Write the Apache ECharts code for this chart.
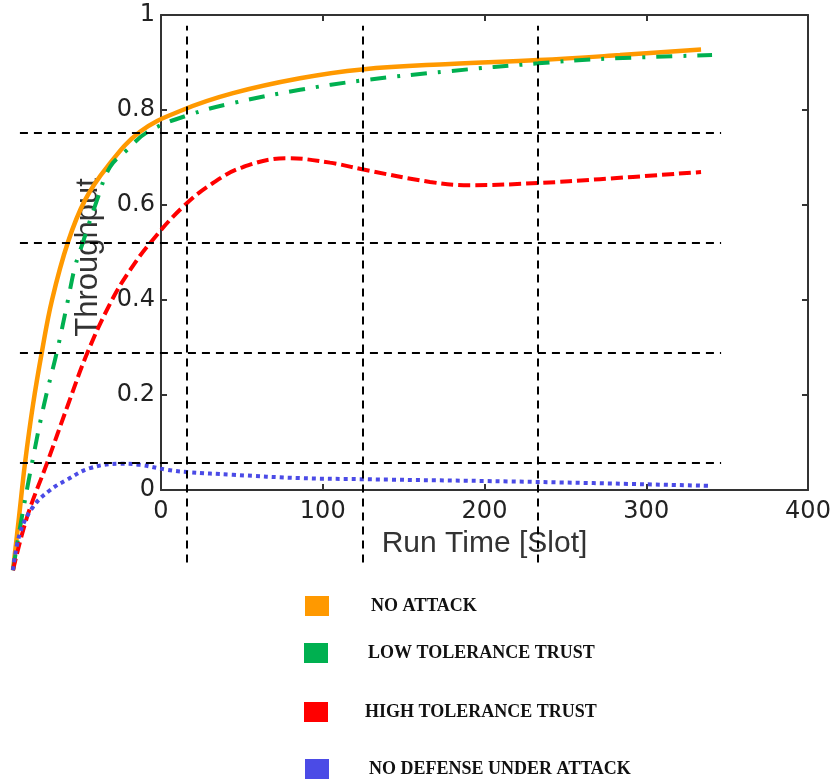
<!DOCTYPE html>
<html>
<head>
<meta charset="utf-8">
<title>Throughput vs Run Time</title>
<script src="https://cdn.jsdelivr.net/npm/echarts@6.0.0/dist/echarts.min.js"></script>
<style>
  html, body { margin: 0; padding: 0; background: #fff; }
  #chart { width: 835px; height: 781px; }
</style>
</head>
<body>
<div id="chart"></div>
<script>
// visible axis frame
const xTicks = [0, 100, 200, 300, 400]
const yTicks = [0, 0.2, 0.4, 0.6, 0.8, 1]

// legend names, top to bottom
const names = ['NO ATTACK', 'LOW TOLERANCE TRUST', 'HIGH TOLERANCE TRUST', 'NO DEFENSE UNDER ATTACK']

// curves (run time slot, throughput)
const noAttackX = [0.85, 4.27, 7.69, 12.25, 17.38, 23.08, 32.19, 41.88, 54.42, 73.22, 97.15, 126.21, 164.39, 199.72, 249.86, 300, 346.7, 392.88]
const noAttackY = [0.006, 0.102, 0.2, 0.306, 0.403, 0.496, 0.601, 0.677, 0.737, 0.801, 0.84, 0.871, 0.898, 0.914, 0.924, 0.931, 0.94, 0.95]

const lowTolX = [0.85, 4.27, 11.68, 18.52, 25.93, 32.19, 36.18, 40.74, 48.72, 56.13, 65.8, 77.78, 100.57, 126.21, 164.39, 199.72, 249.86, 300, 335.33, 399.15]
const lowTolY = [0.006, 0.073, 0.2, 0.306, 0.403, 0.496, 0.556, 0.601, 0.677, 0.737, 0.768, 0.801, 0.831, 0.853, 0.877, 0.894, 0.911, 0.925, 0.933, 0.94]

const highTolX = [0.85, 8.83, 20.23, 32.19, 43.59, 57.26, 67.52, 78.92, 97.72, 114.81, 131.91, 156.98, 181.48, 199.72, 238.46, 261.25, 300, 335.33, 392.88]
const highTolY = [0.006, 0.102, 0.2, 0.306, 0.403, 0.496, 0.55, 0.599, 0.665, 0.708, 0.737, 0.753, 0.745, 0.733, 0.71, 0.704, 0.708, 0.715, 0.728]

const noDefX = [0.85, 4.8, 12.3, 21.9, 31.6, 44.7, 61.8, 73.2, 88.6, 100, 126.2, 164.4, 199.7, 300, 396.9]
const noDefY = [0.006, 0.073, 0.121, 0.151, 0.17, 0.191, 0.199, 0.197, 0.188, 0.184, 0.179, 0.173, 0.171, 0.166, 0.159]

// dashed reference grid of the curve panel
const gridLinesX = [100, 200, 300]
const gridLinesY = [0.2, 0.4, 0.6, 0.8]

const colors = ['#ff9900', '#00b050', '#ff0000', '#4b4be6']

const zip = (xs, ys) => xs.map((x, i) => [x, ys[i]])

const frameLine = { show: true, onZero: false, lineStyle: { color: '#333', width: 2 } }
const frameTick = { show: true, inside: true, length: 6, lineStyle: { color: '#333', width: 2 } }
const tickLabel = { fontFamily: 'DejaVu Sans', fontSize: 24, color: '#222' }

const dashed = { color: '#000', width: 2, type: [8, 6] }
const refLines = [
  ...gridLinesX.map((x) => [{ coord: [x, 0.02] }, { coord: [x, 0.993] }]),
  ...gridLinesY.map((y) => [{ coord: [4.8, y] }, { coord: [404.3, y] }]),
]

function curve(i, xs, ys, lineType, width) {
  return {
    name: names[i],
    type: 'line',
    xAxisIndex: 2,
    yAxisIndex: 2,
    data: zip(xs, ys),
    smooth: 0.4,
    showSymbol: false,
    symbol: 'none',
    itemStyle: { color: colors[i] },
    lineStyle: { color: colors[i], width: width, type: lineType, cap: 'butt' },
    z: 3,
  }
}

const legendPos = [
  { left: 305, top: 596, pad: 37 },
  { left: 304, top: 643, pad: 35 },
  { left: 304, top: 702, pad: 32 },
  { left: 305, top: 759, pad: 35 },
]

const chart = echarts.init(document.getElementById('chart'))
chart.setOption({
  animation: false,
  grid: [
    { left: 161, top: 15, width: 647, height: 475 },
    { left: 11.5, top: 22, width: 719.6, height: 551.5 },
  ],
  xAxis: [
    {
      gridIndex: 0,
      type: 'value',
      position: 'bottom',
      min: xTicks[0],
      max: xTicks[xTicks.length - 1],
      interval: xTicks[1] - xTicks[0],
      name: 'Run Time [Slot]',
      nameLocation: 'middle',
      nameGap: 36,
      nameTextStyle: { fontFamily: 'Liberation Sans', fontSize: 30, color: '#333' },
      axisLine: frameLine,
      axisTick: frameTick,
      axisLabel: { ...tickLabel, margin: 10 },
      splitLine: { show: false },
    },
    {
      gridIndex: 0,
      type: 'value',
      position: 'top',
      min: xTicks[0],
      max: xTicks[xTicks.length - 1],
      interval: xTicks[1] - xTicks[0],
      axisLine: frameLine,
      axisTick: frameTick,
      axisLabel: { show: false },
      splitLine: { show: false },
    },
    { gridIndex: 1, type: 'value', min: 0, max: 410, show: false },
  ],
  yAxis: [
    {
      gridIndex: 0,
      type: 'value',
      position: 'left',
      min: yTicks[0],
      max: yTicks[yTicks.length - 1],
      interval: 0.2,
      name: 'Throughput',
      nameLocation: 'middle',
      nameGap: 57,
      nameTextStyle: { fontFamily: 'Liberation Sans', fontSize: 31, color: '#333', padding: [0, 10, 0, 0] },
      axisLine: frameLine,
      axisTick: frameTick,
      axisLabel: { ...tickLabel, margin: 6 },
      splitLine: { show: false },
    },
    {
      gridIndex: 0,
      type: 'value',
      position: 'right',
      min: yTicks[0],
      max: yTicks[yTicks.length - 1],
      interval: 0.2,
      axisLine: frameLine,
      axisTick: frameTick,
      axisLabel: { show: false },
      splitLine: { show: false },
    },
    { gridIndex: 1, type: 'value', min: 0, max: 1, show: false },
  ],
  legend: names.map((n, i) => ({
    data: [n],
    left: legendPos[i].left,
    top: legendPos[i].top,
    padding: 0,
    icon: 'rect',
    itemWidth: 24,
    itemHeight: 20,
    selectedMode: false,
    itemStyle: { borderWidth: 0 },
    textStyle: {
      fontFamily: 'Liberation Serif',
      fontWeight: 'bold',
      fontSize: 18,
      color: '#111',
      padding: [3, 0, 0, legendPos[i].pad],
    },
  })),
  series: [
    curve(0, noAttackX, noAttackY, 'solid', 4.5),
    curve(1, lowTolX, lowTolY, [16, 11, 3, 11], 4),
    curve(2, highTolX, highTolY, [12, 5], 4),
    {
      ...curve(3, noDefX, noDefY, [4, 4], 4),
      markLine: {
        silent: true,
        symbol: 'none',
        label: { show: false },
        lineStyle: dashed,
        data: refLines,
        z: 4,
      },
    },
  ],
})
</script>
</body>
</html>
